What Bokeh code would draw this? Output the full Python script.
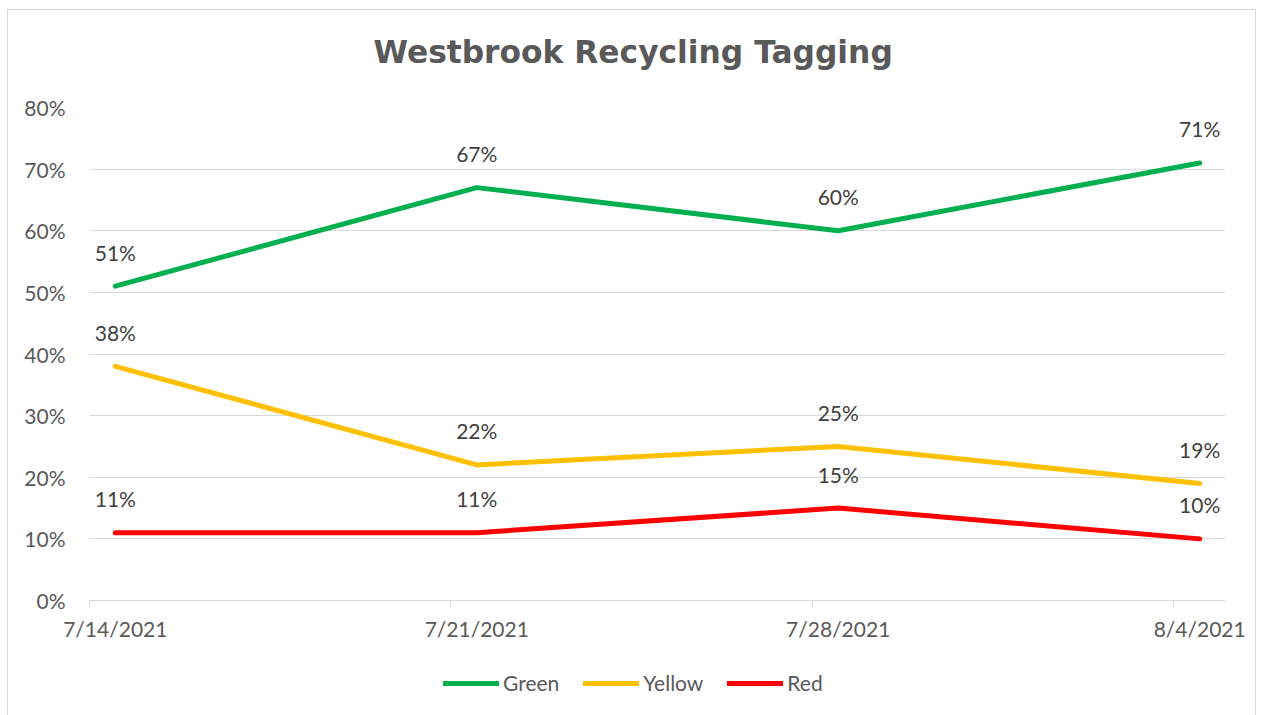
import pandas as pd
from bokeh.plotting import figure
from bokeh.layouts import column
from bokeh.models import (FixedTicker, Legend, LegendItem, ColumnDataSource,
                          Range1d, NumeralTickFormatter)
from bokeh.core.properties import value
from bokeh.embed import file_html
from bokeh.resources import INLINE

# ---- data ----
dates = ["7/14/2021", "7/21/2021", "7/28/2021", "8/4/2021"]
green = [0.51, 0.67, 0.60, 0.71]
yellow = [0.38, 0.22, 0.25, 0.19]
red = [0.11, 0.11, 0.15, 0.10]
series_names = ["Green", "Yellow", "Red"]
series_colors = ["#00B050", "#FFC000", "#FF0000"]
y_ticks = [0.0, 0.1, 0.2, 0.3, 0.4, 0.5, 0.6, 0.7, 0.8]
title_text = "Westbrook Recycling Tagging"

d = pd.to_datetime(dates, format="%m/%d/%Y")
xs = [int((di - d[0]).days) for di in d]

FONT = "Lato"
AXIS_COLOR = "#595959"
GRID_COLOR = "#D9D9D9"
W = 1247


def strip(height):
    f = figure(width=W, height=height, output_backend="svg",
               toolbar_location=None,
               x_range=Range1d(xs[0] - 0.5, xs[-1] + 0.5),
               y_range=Range1d(0, 0.8), min_border=0)
    f.axis.visible = False
    f.grid.grid_line_color = None
    f.outline_line_color = None
    return f


# ---- title strip ----
tf = strip(84)
tf.title.text = title_text
tf.title.text_font = "DejaVu Sans"
tf.title.text_font_style = "bold"
tf.title.text_font_size = "31.3px"
tf.title.text_color = AXIS_COLOR
tf.title.align = "left"
tf.title.offset = 284
tf.title.standoff = 42

# ---- main chart ----
p = figure(width=W, height=553, output_backend="svg", toolbar_location=None,
           x_range=Range1d(xs[0] - 0.5, xs[-1] + 0.5), y_range=Range1d(0, 0.8),
           min_border_left=81, min_border_right=30, min_border_top=13,
           min_border_bottom=47)
p.outline_line_color = None

# y axis
p.yaxis.ticker = FixedTicker(ticks=y_ticks)
p.yaxis.formatter = NumeralTickFormatter(format="0%")
p.yaxis.axis_line_color = None
p.yaxis.major_tick_line_color = None
p.yaxis.minor_tick_line_color = None
p.yaxis.major_label_text_font = FONT
p.yaxis.major_label_text_font_size = "21px"
p.yaxis.major_label_text_color = AXIS_COLOR
p.yaxis.major_label_standoff = 18

# x axis
p.xaxis.ticker = FixedTicker(ticks=xs, minor_ticks=[v - 0.5 for v in xs])
p.xaxis.major_label_overrides = {v: lab for v, lab in zip(xs, dates)}
p.xaxis.major_tick_line_color = None
p.xaxis.major_tick_out = 6
p.xaxis.major_tick_in = 0
p.xaxis.minor_tick_line_color = GRID_COLOR
p.xaxis.minor_tick_out = 6
p.xaxis.minor_tick_in = 0
p.xaxis.axis_line_color = GRID_COLOR
p.xaxis.major_label_text_font = FONT
p.xaxis.major_label_text_font_size = "21px"
p.xaxis.major_label_text_color = AXIS_COLOR
p.xaxis.major_label_standoff = 9

p.xgrid.grid_line_color = None
p.ygrid.grid_line_color = GRID_COLOR
p.ygrid.grid_line_width = 1

# ---- legend strip (same series styling) ----
lg = strip(68)

items = []
for name, vals, col in zip(series_names, [green, yellow, red], series_colors):
    p.line(xs, vals, line_color=col, line_width=5, line_cap="round",
           line_join="round")
    src = ColumnDataSource(dict(x=xs, y=vals, t=[f"{v:.0%}" for v in vals]))
    p.text("x", "y", text="t", source=src, text_align="center",
           text_baseline="middle", y_offset=-34, text_color="#404040",
           text_font=value(FONT), text_font_size="21px")
    lr = lg.line(xs, vals, line_color=col, line_width=5, line_cap="round",
                 visible=False)
    items.append(LegendItem(label=name, renderers=[lr]))

legend = Legend(items=items, orientation="horizontal", location=(354, 20),
                border_line_color=None, background_fill_alpha=0,
                inactive_fill_alpha=0,
                label_text_font=FONT, label_text_font_size="21px",
                label_text_color=AXIS_COLOR, glyph_width=56, glyph_height=22,
                label_height=22, label_standoff=4, spacing=24, padding=0,
                margin=0)
lg.add_layout(legend, "center")

layout = column(tf, p, lg, spacing=0)
layout.styles = {"border": "1px solid #D9D9D9", "margin-left": "7px",
                 "margin-top": "9px"}

open("out.html", "w").write(file_html(layout, INLINE))
